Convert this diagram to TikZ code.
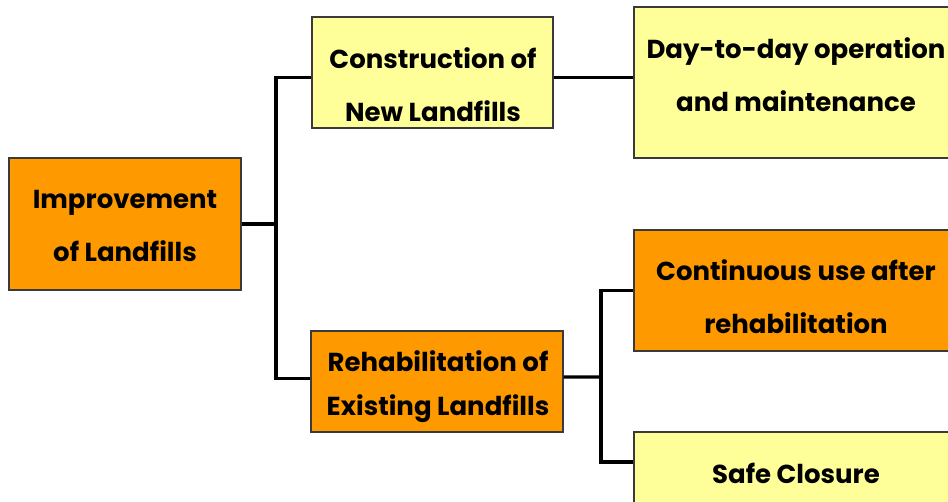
\documentclass[tikz,border=0pt]{standalone}
\usepackage{fontspec}
\setmainfont{Poppins}[BoldFont={* Bold}]
\definecolor{boxorange}{HTML}{FF9900}
\definecolor{boxyellow}{HTML}{FFFF99}
\definecolor{boxedge}{HTML}{3A3A3A}
\begin{document}
\begin{tikzpicture}[x=0.75pt,y=-0.75pt,
  box/.style={draw=boxedge,line width=0.8pt,inner sep=0pt,anchor=center},
  orangebox/.style={box,fill=boxorange},
  yellowbox/.style={box,fill=boxyellow},
  txt/.style={align=center,inner sep=0pt,font=\bfseries\fontsize{19.5}{39.5}\selectfont},
  link/.style={line width=2.3pt,black}]
\useasboundingbox (0,0) rectangle (948,501);
\clip (0,0) rectangle (948,501);
% boxes
\node[orangebox,minimum width=232*0.75pt,minimum height=132*0.75pt] (imp) at (125,224) {};
\node[yellowbox,minimum width=241*0.75pt,minimum height=111*0.75pt] (con) at (432.5,72.5) {};
\node[yellowbox,minimum width=324*0.75pt,minimum height=151*0.75pt] (day) at (796,82.5) {};
\node[orangebox,minimum width=252*0.75pt,minimum height=101*0.75pt] (reh) at (437,381.5) {};
\node[orangebox,minimum width=324*0.75pt,minimum height=121*0.75pt] (cont) at (796,290.5) {};
\node[yellowbox,minimum width=324*0.75pt,minimum height=80*0.75pt] (safe) at (796,472) {};
% texts
\node[txt] (impt) at (125,226) {Improvement\\of Landfills};
\node[txt] (cont1) at (433,84.5) {Construction of\\New Landfills};
\node[txt] (dayt) at (796,75) {Day-to-day operation\\and maintenance};
\node[txt,font=\bfseries\fontsize{19.5}{33}\selectfont] (reht) at (438,387) {Rehabilitation of\\Existing Landfills};
\node[txt] (contt) at (796,297) {Continuous use after\\rehabilitation};
\node[txt] (safet) at (796,473) {Safe Closure};
% connectors
\coordinate (j1) at (276,224);
\coordinate (j2) at (601,377);
\draw[link] (imp.east) -- (j1);
\draw[link] (j1) |- ([yshift=-3.4pt]con.west);
\draw[link] (j1) |- ([yshift=2.6pt]reh.west);
\draw[link] ([yshift=-3.4pt]con.east) -- ([yshift=4.1pt]day.west);
\draw[link] ([yshift=3.4pt]reh.east) -- (j2);
\draw[link] (j2) |- (cont.west);
\draw[link] (j2) |- ([yshift=7.5pt]safe.west);
\end{tikzpicture}
\end{document}
